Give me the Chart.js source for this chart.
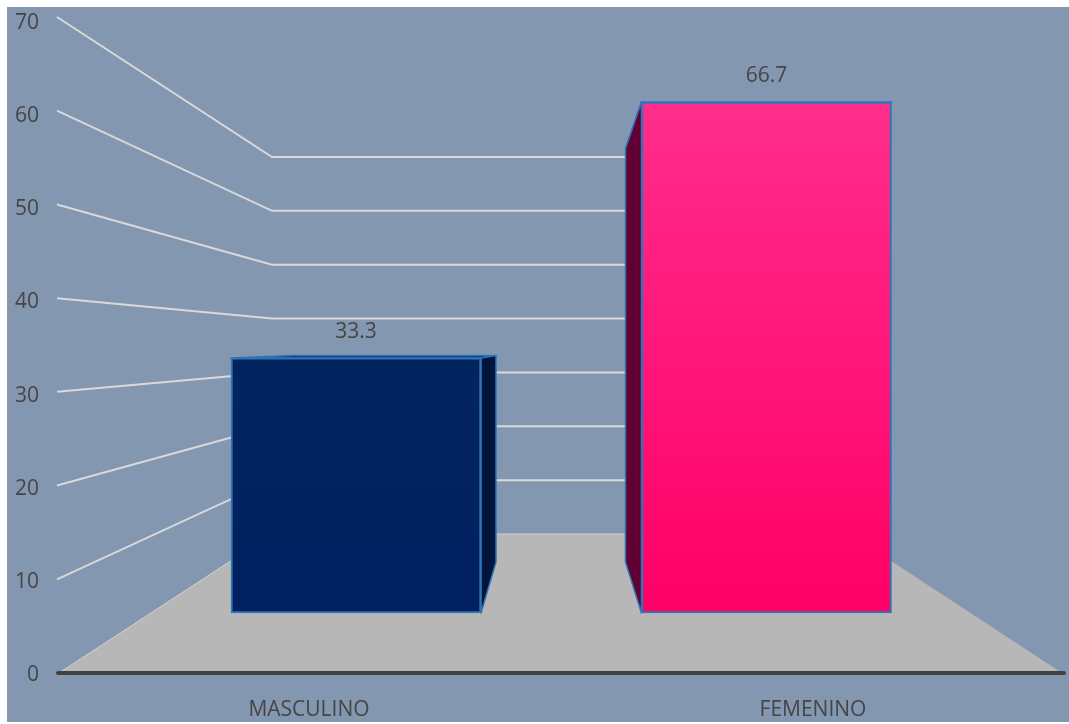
<!DOCTYPE html>
<html>
<head>
<meta charset="utf-8">
<script src="https://cdn.jsdelivr.net/npm/chart.js@4"></script>
<style>
  html, body { margin: 0; padding: 0; background: #fff; }
  canvas { display: block; }
</style>
</head>
<body>
<canvas id="chart" width="1069" height="724"></canvas>
<script>
const categories = ['MASCULINO', 'FEMENINO'];
const values = [33.3, 66.7];
const barPositions = [0, 1];
const faceTop = ['#03255f', '#ff2d8c'];
const faceBottom = ['#002060', '#ff0066'];
const sideColors = ['#00143c', '#600033'];
const topColors = ['#0a3070', '#ff2d8c'];

const FONT = '"Open Sans", sans-serif';
const TEXT = '#454545';
const WALL_INSET = 215;

// fake 3d: wall, floor and bar sides are painted around the real bars
const scene = {
  id: 'scene',
  beforeDraw(chart) {
    const ctx = chart.ctx;
    ctx.save();
    ctx.fillStyle = '#8497b0';
    ctx.fillRect(7, 7, 1062, 715);
    ctx.restore();
  },
  beforeDatasetsDraw(chart) {
    const { ctx, chartArea, scales } = chart;
    const left = chartArea.left, right = chartArea.right;
    const backL = left + WALL_INSET, backR = right - WALL_INSET;
    const y0 = scales.yGrid.getPixelForValue(0);
    const wall0 = scales.yWall.getPixelForValue(0);

    ctx.save();
    // floor
    ctx.beginPath();
    ctx.moveTo(left + 2, y0);
    ctx.lineTo(backL, wall0);
    ctx.lineTo(backR, wall0);
    ctx.lineTo(right - 3, y0);
    ctx.closePath();
    ctx.fillStyle = '#b7b7b7';
    ctx.fill();
    ctx.beginPath();
    ctx.moveTo(left + 2, y0);
    ctx.lineTo(backL, wall0);
    ctx.lineTo(backR, wall0);
    ctx.strokeStyle = '#d2d2d2';
    ctx.lineWidth = 1;
    ctx.stroke();

    // axis line
    ctx.beginPath();
    ctx.moveTo(left + 1, y0);
    ctx.lineTo(right - 1, y0);
    ctx.strokeStyle = '#404040';
    ctx.lineWidth = 4;
    ctx.lineCap = 'round';
    ctx.stroke();
    ctx.lineCap = 'butt';

    // grid lines, side wall then back wall
    ctx.strokeStyle = '#d9d9d9';
    ctx.lineWidth = 2;
    for (let v = 10; v <= 70; v += 10) {
      ctx.beginPath();
      ctx.moveTo(left, scales.yGrid.getPixelForValue(v));
      ctx.lineTo(backL, scales.yWall.getPixelForValue(v));
      ctx.lineTo(backR, scales.yWall.getPixelForValue(v));
      ctx.stroke();
    }

    // bar depth
    const bars = chart.getDatasetMeta(0).data;
    bars.forEach((bar, i) => {
      const half = bar.width / 2;
      const fx1 = bar.x - half, fx2 = bar.x + half;
      const fTop = bar.y, fBase = bar.base;
      const bTop = scales.yBarBack.getPixelForValue(values[i]);
      const bBase = scales.yBarBack.getPixelForValue(0);
      const backW = bar.width * 0.81;
      const onLeft = bar.x < (left + right) / 2;
      const bx2 = onLeft ? fx2 + 15 : fx1 - 16 + backW;
      const bx1 = bx2 - backW;

      ctx.strokeStyle = '#2e75b6';
      ctx.lineWidth = 1.5;
      ctx.lineJoin = 'round';

      ctx.beginPath();
      ctx.moveTo(fx1, fTop);
      ctx.lineTo(bx1, bTop);
      ctx.lineTo(bx2, bTop);
      ctx.lineTo(fx2, fTop);
      ctx.closePath();
      ctx.fillStyle = topColors[i];
      ctx.fill();
      ctx.stroke();

      const fx = onLeft ? fx2 : fx1;
      const bx = onLeft ? bx2 : bx1;
      ctx.beginPath();
      ctx.moveTo(fx, fTop);
      ctx.lineTo(bx, bTop);
      ctx.lineTo(bx, bBase);
      ctx.lineTo(fx, fBase);
      ctx.closePath();
      ctx.fillStyle = sideColors[i];
      ctx.fill();
      ctx.stroke();
    });
    ctx.restore();
  },
  afterDatasetsDraw(chart) {
    const ctx = chart.ctx;
    ctx.save();
    ctx.font = '21px ' + FONT;
    ctx.fillStyle = TEXT;
    ctx.textAlign = 'center';
    ctx.textBaseline = 'middle';
    chart.getDatasetMeta(0).data.forEach((bar, i) => {
      ctx.fillText(values[i].toFixed(1), bar.x, bar.y - 26);
    });
    ctx.restore();
  },
};

new Chart(document.getElementById('chart'), {
  type: 'bar',
  plugins: [scene],
  data: {
    datasets: [
      {
        data: barPositions.map((p, i) => ({ x: p, y: values[i] })),
        xAxisID: 'xBars',
        yAxisID: 'yBars',
        barThickness: 250,
        borderColor: '#2e75b6',
        borderWidth: 2,
        borderSkipped: false,
        backgroundColor: c => {
          const i = c.dataIndex;
          if (!c.chart.chartArea || i === undefined) return faceBottom[i || 0];
          const yScale = c.chart.scales.yBars;
          const g = c.chart.ctx.createLinearGradient(0, yScale.getPixelForValue(values[i]), 0, yScale.getPixelForValue(0));
          g.addColorStop(0, faceTop[i]);
          g.addColorStop(1, faceBottom[i]);
          return g;
        },
      },
    ],
  },
  options: {
    responsive: false,
    animation: false,
    layout: { padding: { top: 23, right: 4, left: 0, bottom: 0 } },
    plugins: { legend: { display: false }, tooltip: { enabled: false } },
    scales: {
      x: {
        type: 'category',
        labels: categories,
        grid: { display: false, drawTicks: false },
        border: { display: false },
        ticks: { color: TEXT, font: { family: FONT, size: 21 }, padding: 22, maxRotation: 0 },
        afterFit: s => { s.height = 49; s.paddingLeft = 0; s.paddingRight = 0; },
      },
      y: {
        min: 0,
        max: 70,
        grid: { display: false, drawTicks: false },
        border: { display: false },
        ticks: { stepSize: 10, color: TEXT, font: { family: FONT, size: 21 }, padding: 18 },
        afterFit: s => { s.width = 57; s.paddingTop = 0; s.paddingBottom = 0; },
      },
      // hidden scales for the planes of the perspective
      xBars: { type: 'linear', display: false, offset: false, min: -0.7284, max: 1.7272 },
      yBars: { display: false, min: -8.09, max: 77.02 },
      yGrid: { display: false, min: -0.213, max: 69.36 },
      yWall: { display: false, min: -26.18, max: 94.88 },
      yBarBack: { display: false, min: -18.23, max: 86.94 },
    },
  },
});
</script>
</body>
</html>
